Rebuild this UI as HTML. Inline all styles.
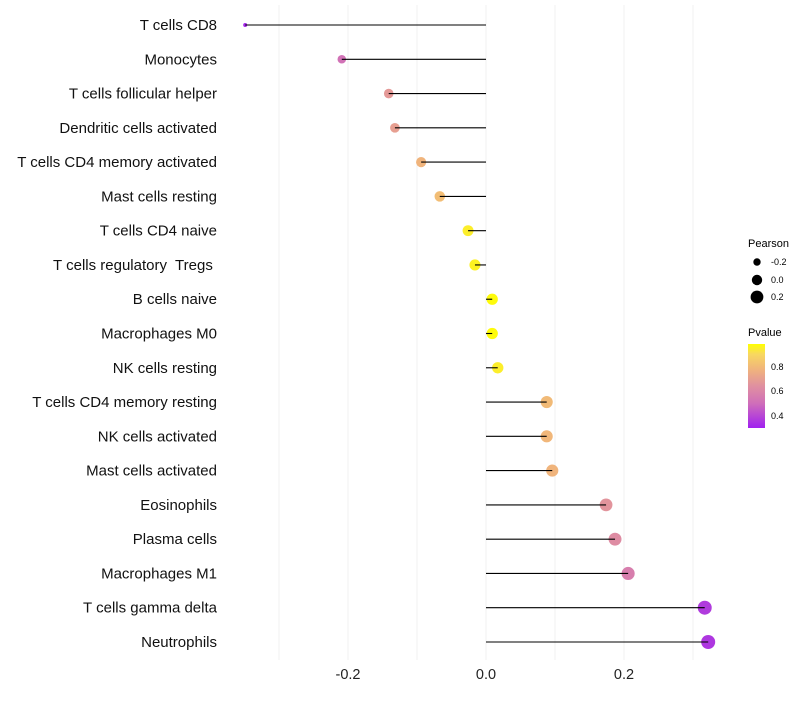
<!DOCTYPE html>
<html><head><meta charset="utf-8"><style>
body{margin:0;background:#fff;font-family:"Liberation Sans",sans-serif}
text{white-space:pre}
</style></head><body>
<svg id="chart" width="800" height="700" xmlns="http://www.w3.org/2000/svg">
<defs><linearGradient id="pg" x1="0" y1="1" x2="0" y2="0">
<stop offset="0" stop-color="#a020f0"/><stop offset="0.3" stop-color="#d070b8"/><stop offset="0.5" stop-color="#e090a0"/><stop offset="0.7" stop-color="#f0b47c"/><stop offset="0.88" stop-color="#f8d860"/><stop offset="1" stop-color="#ffff00"/></linearGradient></defs>
<g id="grid"></g><g id="points"></g><g id="marks"></g><g id="labels"></g>
<g font-size="9">
<text x="748" y="247" font-size="11">Pearson</text>
<circle cx="757" cy="262" r="3.7"/><text x="771" y="265">-0.2</text>
<circle cx="757" cy="280" r="5.2"/><text x="771" y="283">0.0</text>
<circle cx="757" cy="297" r="6.4"/><text x="771" y="300">0.2</text>
</g>
<g font-size="9">
<text x="748" y="336" font-size="11">Pvalue</text>
<rect x="748" y="344" width="17" height="84" fill="url(#pg)"/>
<text x="771" y="370">0.8</text><text x="771" y="394">0.6</text><text x="771" y="419">0.4</text>
</g>
</svg>
<script>
const categories=["T cells CD8","Monocytes","T cells follicular helper","Dendritic cells activated","T cells CD4 memory activated","Mast cells resting","T cells CD4 naive","T cells regulatory  Tregs ","B cells naive","Macrophages M0","NK cells resting","T cells CD4 memory resting","NK cells activated","Mast cells activated","Eosinophils","Plasma cells","Macrophages M1","T cells gamma delta","Neutrophils"];
const pearson=[-0.349,-0.209,-0.141,-0.132,-0.094,-0.067,-0.026,-0.016,0.009,0.009,0.017,0.088,0.088,0.096,0.174,0.187,0.206,0.317,0.322];
const pvalues=[0.32,0.52,0.68,0.70,0.78,0.81,0.95,0.96,0.98,0.98,0.95,0.80,0.79,0.78,0.66,0.63,0.57,0.37,0.36];
const ticks=[-0.2,0,0.2];
const minorTicks=[-0.3,-0.1,0.1,0.3];
const NS="http://www.w3.org/2000/svg";
const x=v=>486+v*690;
const y=i=>25+i*(617/18);
const pmin=Math.min(...pearson),pmax=Math.max(...pearson);
const r=v=>2+5.0*Math.sqrt((v-pmin)/(pmax-pmin||1));
const stops=[[0.30,[160,32,240]],[0.51,[208,112,184]],[0.645,[224,144,160]],[0.78,[240,180,124]],[0.90,[248,216,96]],[0.99,[255,255,0]]];
function col(p){p=Math.max(0.30,Math.min(0.99,p));for(let k=1;k<stops.length;k++){if(p<=stops[k][0]){const [a,ca]=stops[k-1],[b,cb]=stops[k];const t=(p-a)/(b-a);return 'rgb('+ca.map((c,j)=>Math.round(c+(cb[j]-c)*t)).join(',')+')';}}return 'rgb(255,255,0)';}
function mk(tag,attrs,parent){const e=document.createElementNS(NS,tag);for(const k in attrs)e.setAttribute(k,attrs[k]);parent.appendChild(e);return e;}
const grid=document.getElementById('grid'),marks=document.getElementById('marks'),points=document.getElementById('points'),labels=document.getElementById('labels');
ticks.concat(minorTicks).forEach(t=>{const l=mk('line',{x1:x(t),x2:x(t),y1:5,y2:660,stroke:'#f0f0f0','stroke-width':1},grid);

});
ticks.forEach(t=>{const tx=mk('text',{x:x(t),y:679,'text-anchor':'middle','font-size':14.5,fill:'#222'},labels);tx.textContent=t===0?'0.0':t.toFixed(1);

});
categories.forEach((c,i)=>{const v=pearson[i];
const ci=mk('circle',{cx:x(v),cy:y(i),r:r(v),fill:col(pvalues[i])},points);


const ln=mk('line',{x1:x(0),x2:x(v),y1:y(i),y2:y(i),stroke:'#000','stroke-width':1.1},marks);


const tx=mk('text',{x:217,y:y(i)+5,'text-anchor':'end','font-size':15,fill:'#111'},labels);tx.textContent=c;

});
</script>
</body></html>
